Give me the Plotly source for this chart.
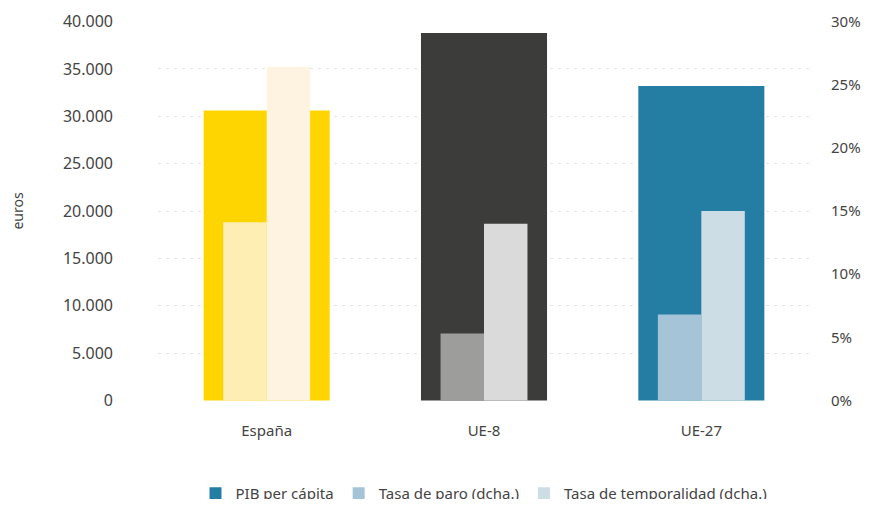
import plotly.graph_objects as go

categorias = ["España", "UE-8", "UE-27"]
pib = [30600, 38800, 33200]
paro = [14.1, 5.3, 6.8]
temporalidad = [26.4, 14.0, 15.0]

col_pib = ["#FFD500", "#3C3C3B", "#247EA3"]
col_paro = ["#FFEEB3", "#9D9D9C", "#A6C4D8"]
col_temp = ["#FEF3E0", "#DADADA", "#CDDDE6"]

fuente = "Noto Sans"
gris = "#444444"

fig = go.Figure()

fig.add_trace(go.Bar(x=categorias, y=pib, width=0.58, marker_color=col_pib,
                     marker_line_width=0, showlegend=False, name="PIB per cápita"))
fig.add_trace(go.Bar(x=categorias, y=paro, width=0.2, offset=-0.2, marker_color=col_paro,
                     marker_line_width=0, showlegend=False, yaxis="y2", name="Tasa de paro (dcha.)"))
fig.add_trace(go.Bar(x=categorias, y=temporalidad, width=0.2, offset=0, marker_color=col_temp,
                     marker_line_width=0, showlegend=False, yaxis="y2",
                     name="Tasa de temporalidad (dcha.)"))

# entradas de leyenda con los colores de UE-27
for nombre, color in [("PIB per cápita", col_pib[2]),
                      ("Tasa de paro (dcha.)", col_paro[2]),
                      ("Tasa de temporalidad (dcha.)", col_temp[2])]:
    fig.add_trace(go.Bar(x=[categorias[0]], y=[None], name=nombre, marker_color=color,
                         marker_line_width=0))

# el body de la página tiene 8px de margen: figura más pequeña para que quepa entera
fig.update_layout(
    width=854, height=491,
    barmode="overlay",
    separators=",.",
    plot_bgcolor="white", paper_bgcolor="white",
    font=dict(family=fuente, size=14, color=gris),
    margin=dict(l=150, r=52, t=13, b=98, autoexpand=False),
    xaxis=dict(showgrid=False, zeroline=False, showline=False, automargin=False,
               tickfont=dict(size=15, color=gris), ticklabelstandoff=19),
    yaxis=dict(range=[-60, 40060], tick0=0, dtick=5000, tickformat=",d",
               showgrid=True, gridcolor="#E4E4E4", griddash="3px,5px", gridwidth=1,
               zeroline=False, showline=False, automargin=False,
               tickfont=dict(size=16, color=gris), ticklabelstandoff=44,
               title=dict(text="euros", font=dict(size=14, color=gris), standoff=52)),
    yaxis2=dict(range=[-0.045, 30.045], tick0=0, dtick=5, ticksuffix="%",
                overlaying="y", side="right",
                showgrid=False, zeroline=False, showline=False, automargin=False,
                tickfont=dict(size=15, color=gris), ticklabelstandoff=20),
    legend=dict(orientation="h", x=0.5, xanchor="center", y=-0.2, yanchor="top",
                font=dict(size=15, color=gris)),
)

fig.write_html("out.html")
